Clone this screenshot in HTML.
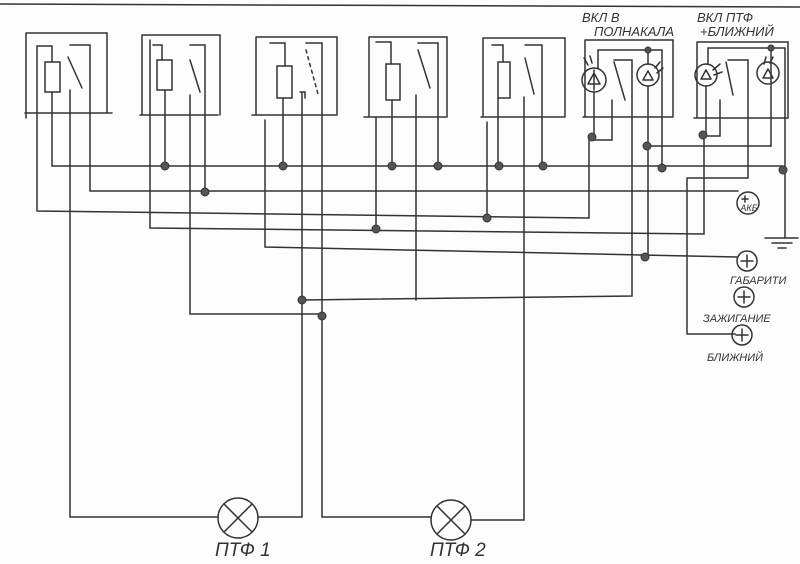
<!DOCTYPE html>
<html><head><meta charset="utf-8"><style>
html,body{margin:0;padding:0;background:#fdfdfd;}
svg{display:block}
text{font-family:"Liberation Sans","DejaVu Sans",sans-serif;fill:#333;font-style:italic}
</style></head><body>
<svg width="800" height="564" viewBox="0 0 800 564" xmlns="http://www.w3.org/2000/svg">
<g stroke="#333" stroke-width="1.5" fill="none" stroke-linecap="round">
<line x1="0" y1="4" x2="800" y2="7"/>
<!-- Box1 -->
<path d="M26 33 H107 V112 M25 113 H112 M26 33 V118"/>
<rect x="45" y="62" width="15" height="30"/>
<path d="M37 118 V46 H52 V62 M52 92 V166 H783"/>
<path d="M70 45 H90 V191 H738 M68 57 L82 88 M70 90 V517 H218"/>
<path d="M37 118 V211 L589 218 V137"/>
<!-- Box2 -->
<path d="M142 35 H220 V115 M140 115 H218 M142 35 V115"/>
<rect x="157" y="60" width="15" height="30"/>
<path d="M153 45 H162 V60 M165 90 V166 M190 45 H205 V166 L205 192 M190 60 L200 92 M190 95 V314 H320"/>
<path d="M150 40 V228 L704 234 V137"/>
<!-- Box3 -->
<path d="M256 37 H337 V115 M252 115 H337 M256 37 V115"/>
<rect x="277" y="66" width="15" height="32"/>
<path d="M270 43 H285 V66 M283 98 V166 M306 43 H322 V517"/>
<path d="M306 50 L318 94" stroke-dasharray="3 4"/>
<path d="M265 120 V247 L737 257 M300 92 H305 V98 M302 92 V517 M302 300 L632 296 V60 H614 M614 62 L625 100"/>
<path d="M322 517 H431"/>
<!-- Box4 -->
<path d="M369 37 H447 V117 M364 117 H447 M369 37 V117"/>
<rect x="386" y="64" width="14" height="36"/>
<path d="M376 42 H391 V64 M392 100 V166 M418 43 H438 V166 M418 50 L430 88 M416 95 V300"/>
<path d="M376 117 V229"/>
<!-- Box5 -->
<path d="M483 38 H565 V117 M481 117 H565 M483 38 V117"/>
<rect x="498" y="62" width="12" height="36"/>
<path d="M492 45 H503 V62 M498 98 V166 M525 45 H542 V166 M525 58 L534 94 M524 97 V520"/>
<path d="M487 122 V218"/>
<!-- Box6 -->
<path d="M585 40 H673 V117 M583 117 H673 M585 40 V117"/>
<circle cx="594" cy="80" r="12"/>
<circle cx="648" cy="75" r="11"/>
<path d="M588 84 L600 84 M594 73 L588 84 M594 73 L600 84 M594 70 V90 M643 80 H653 M648 71 L643 80 M648 71 L653 80"/>
<path d="M598 68 V50 H662 V168 M648 50 V64 M648 86 V257 M594 92 V137 M612 100 V140 H592 M648 146 H771"/>
<path d="M588 65 L584 58 M592 63 L590 56 M655 68 L660 62 M657 73 L663 68"/>
<!-- Box7 -->
<path d="M697 42 H788 V118 M694 118 H788 M697 42 V118"/>
<circle cx="706" cy="75" r="11"/>
<circle cx="768" cy="73" r="11"/>
<path d="M701 79 H711 M706 70 L701 79 M706 70 L711 79 M763 78 H773 M768 69 L763 78 M768 69 L773 78"/>
<path d="M708 64 V48 H771 V146 M771 48 H785 V166 V238 M728 60 H748 V178 H687 V334 H735 M726 62 L733 95 M720 100 V136 H703 M706 86 V137"/>
<path d="M713 70 L720 64 M714 75 L722 72 M764 64 L766 57 M770 63 L773 57"/>
<!-- ground -->
<path d="M765 238 H798 M772 243 H792 M778 248 H786"/>
<!-- supply circles -->
<circle cx="748" cy="203" r="11"/>
<circle cx="747" cy="261" r="10"/>
<path d="M741 261 H753 M747 255 V267"/>
<circle cx="744" cy="297" r="10"/>
<path d="M738 297 H750 M744 291 V303"/>
<circle cx="742" cy="335" r="10"/>
<path d="M736 335 H748 M742 329 V341"/>
<path d="M745 196 V202 M742 199 H748"/>
<!-- lamps -->
<circle cx="238" cy="518" r="20"/>
<path d="M224 504 L252 532 M252 504 L224 532"/>
<path d="M258 517 H302"/>
<circle cx="451" cy="520" r="20"/>
<path d="M437 506 L465 534 M465 506 L437 534"/>
<path d="M471 520 H524"/>
</g>
<g fill="#555" stroke="#333" stroke-width="1">
<circle cx="165" cy="166" r="4"/><circle cx="283" cy="166" r="4"/><circle cx="392" cy="166" r="4"/>
<circle cx="438" cy="166" r="4"/><circle cx="499" cy="166" r="4"/><circle cx="543" cy="166" r="4"/>
<circle cx="662" cy="168" r="4"/><circle cx="783" cy="170" r="4"/>
<circle cx="205" cy="192" r="4"/><circle cx="376" cy="229" r="4"/><circle cx="487" cy="218" r="4"/>
<circle cx="645" cy="257" r="4"/><circle cx="302" cy="300" r="4"/><circle cx="322" cy="316" r="4"/>
<circle cx="592" cy="137" r="4"/><circle cx="647" cy="146" r="4"/><circle cx="703" cy="135" r="4"/>
<circle cx="648" cy="50" r="3"/><circle cx="771" cy="48" r="3"/>
</g>
<text x="749" y="211" font-size="9" text-anchor="middle">АКБ</text>
<text x="582" y="22" font-size="13">ВКЛ  В</text>
<text x="594" y="36" font-size="13">ПОЛНАКАЛА</text>
<text x="697" y="22" font-size="13">ВКЛ  ПТФ</text>
<text x="700" y="36" font-size="13">+БЛИЖНИЙ</text>
<text x="730" y="284" font-size="11">ГАБАРИТИ</text>
<text x="703" y="322" font-size="11">ЗАЖИГАНИЕ</text>
<text x="707" y="361" font-size="11">БЛИЖНИЙ</text>
<text x="215" y="556" font-size="19">ПТФ 1</text>
<text x="430" y="556" font-size="19">ПТФ 2</text>
</svg>
</body></html>
